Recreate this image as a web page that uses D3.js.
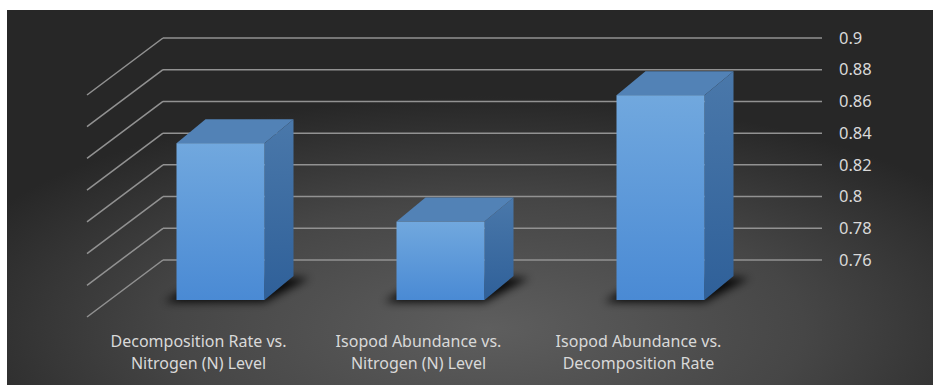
<!DOCTYPE html>
<html>
<head>
<meta charset="utf-8">
<script src="https://cdn.jsdelivr.net/npm/d3@7"></script>
<style>
  body { margin: 0; background: #fff; }
  svg { display: block; }
</style>
</head>
<body>
<script>

var categories = [
  ["Decomposition Rate vs.", "Nitrogen (N) Level"],
  ["Isopod Abundance vs.", "Nitrogen (N) Level"],
  ["Isopod Abundance vs.", "Decomposition Rate"]
];
var values = [0.858, 0.809, 0.888];
var tickValues = [0.76, 0.78, 0.8, 0.82, 0.84, 0.86, 0.88, 0.9];
var tickLabels = ["0.76", "0.78", "0.8", "0.82", "0.84", "0.86", "0.88", "0.9"];

var W = 933, H = 385;

var svg = d3.select("body").append("svg")
    .attr("width", W)
    .attr("height", H);

var defs = svg.append("defs");

// dark background, lighter towards bottom centre
var bg = defs.append("radialGradient").attr("id", "bg")
    .attr("cx", "52%").attr("cy", "85%").attr("r", "62%");
bg.append("stop").attr("offset", "0%").attr("stop-color", "#5e5e5e");
bg.append("stop").attr("offset", "55%").attr("stop-color", "#464646");
bg.append("stop").attr("offset", "100%").attr("stop-color", "#272727");

var front = defs.append("linearGradient").attr("id", "front")
    .attr("x1", 0).attr("y1", 0).attr("x2", 0).attr("y2", 1);
front.append("stop").attr("offset", "0%").attr("stop-color", "#71a8de");
front.append("stop").attr("offset", "100%").attr("stop-color", "#4a8ad4");

var side = defs.append("linearGradient").attr("id", "side")
    .attr("x1", 0).attr("y1", 0).attr("x2", 0).attr("y2", 1);
side.append("stop").attr("offset", "0%").attr("stop-color", "#4a78aa");
side.append("stop").attr("offset", "100%").attr("stop-color", "#2f6099");

defs.append("filter").attr("id", "blur")
    .attr("x", "-50%").attr("y", "-50%").attr("width", "200%").attr("height", "200%")
  .append("feGaussianBlur").attr("stdDeviation", 4);

svg.append("rect")
    .attr("x", 7).attr("y", 10)
    .attr("width", W - 7).attr("height", H - 10)
    .attr("fill", "url(#bg)");

// scales: back wall, bar front plane
var yBack = d3.scaleLinear().domain([0.76, 0.9]).range([260, 38]);
var yFront = d3.scaleLinear().domain([0.76, 0.9]).range([300, 76]);

var x = d3.scaleBand()
    .domain(d3.range(categories.length))
    .range([110.5, 770.5])
    .paddingInner(0.6)
    .paddingOuter(0.3);

var wallLeft = 163, wallRight = 822;
var sideDx = -76, sideDy = 57;      // side wall depth
var depthDx = 29, depthDy = -24;    // bar depth

// gridlines
var grid = svg.append("g")
    .attr("stroke", "#929292")
    .attr("stroke-width", 1.5)
    .attr("fill", "none");

grid.selectAll(".back")
  .data(tickValues)
  .enter().append("line")
    .attr("class", "back")
    .attr("x1", wallLeft).attr("x2", wallRight)
    .attr("y1", function(d) { return yBack(d); })
    .attr("y2", function(d) { return yBack(d); });

grid.selectAll(".sidewall")
  .data(tickValues)
  .enter().append("line")
    .attr("class", "sidewall")
    .attr("x1", wallLeft).attr("x2", wallLeft + sideDx)
    .attr("y1", function(d) { return yBack(d); })
    .attr("y2", function(d) { return yBack(d) + sideDy; });

// value axis on the right
var axis = svg.append("g")
    .attr("transform", "translate(839,0)")
    .call(d3.axisRight(yBack)
      .tickValues(tickValues)
      .tickFormat(function(d, i) { return tickLabels[i]; })
      .tickSize(0)
      .tickPadding(0));
axis.select(".domain").remove();
axis.selectAll("text")
    .attr("fill", "#d9d9d9")
    .style("font-family", "'Noto Sans', sans-serif")
    .style("font-size", "16.5px");

// bars
var bars = svg.selectAll(".bar")
  .data(values)
  .enter().append("g")
    .attr("class", "bar");

var base = yFront(0.76);

// soft shadow on the floor
bars.append("polygon")
    .attr("points", function(d, i) {
      var x0 = x(i), x1 = x(i) + x.bandwidth();
      return [[x0 - 12, base + 2], [x1, base + 2],
              [x1 + depthDx + 16, base + depthDy + 2], [x0 + depthDx, base + depthDy]].join(" ");
    })
    .attr("fill", "#000")
    .attr("opacity", 0.9)
    .attr("filter", "url(#blur)");

bars.append("polygon")
    .attr("points", function(d, i) {
      var x0 = x(i), x1 = x(i) + x.bandwidth(), yt = yFront(d);
      return [[x0, yt], [x1, yt], [x1 + depthDx, yt + depthDy], [x0 + depthDx, yt + depthDy]].join(" ");
    })
    .attr("fill", "#5282b6");

bars.append("polygon")
    .attr("points", function(d, i) {
      var x1 = x(i) + x.bandwidth(), yt = yFront(d);
      return [[x1, yt], [x1 + depthDx, yt + depthDy], [x1 + depthDx, base + depthDy], [x1, base]].join(" ");
    })
    .attr("fill", "url(#side)");

bars.append("rect")
    .attr("x", function(d, i) { return x(i); })
    .attr("y", function(d) { return yFront(d); })
    .attr("width", x.bandwidth())
    .attr("height", function(d) { return base - yFront(d); })
    .attr("fill", "url(#front)");

// category labels
var labels = svg.selectAll(".cat")
  .data(categories)
  .enter().append("text")
    .attr("class", "cat")
    .attr("x", function(d, i) { return x(i) + x.bandwidth() / 2 - 22; })
    .attr("y", 347)
    .attr("text-anchor", "middle")
    .attr("fill", "#d9d9d9")
    .style("font-family", "'Noto Sans', sans-serif")
    .style("font-size", "16px");

labels.selectAll("tspan")
  .data(function(d) { return d; })
  .enter().append("tspan")
    .attr("x", function() { return d3.select(this.parentNode).attr("x"); })
    .attr("dy", function(d, i) { return i ? 21.5 : 0; })
    .text(function(d) { return d; });

</script>
</body>
</html>
